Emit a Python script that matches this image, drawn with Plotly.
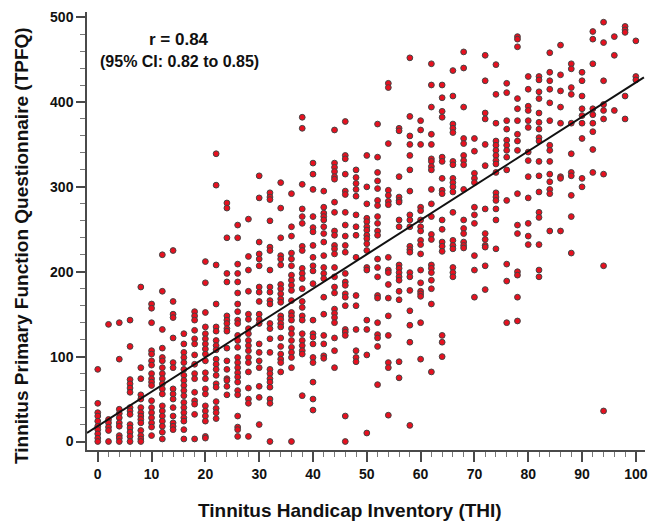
import plotly.graph_objects as go

thi_00 = [85,45,34,30,24,18,14,9,4,0]
thi_02 = [138,26,22,17,13,0]
thi_04 = [140,97,38,33,28,22,18,7,4,0]
thi_06 = [143,112,73,68,63,58,40,36,32,20,16,11,6,0]
thi_08 = [182,87,74,55,50,40,34,30,26,22,13,7,3,0]
thi_10 = [162,157,140,107,103,95,90,80,74,70,66,48,40,34,28,22,17,7]
thi_12 = [220,177,132,110,99,95,87,80,74,68,62,56,42,36,30,24,18,11,3]
thi_14 = [225,165,150,146,122,93,87,62,56,50,40,30,22,18,14]
thi_16 = [127,115,105,99,93,85,78,72,66,60,54,46,40,34,28,24,14,3]
thi_18 = [153,148,143,131,121,115,102,91,80,74,58,48,44,32,3]
thi_20 = [212,187,152,135,127,121,115,109,103,95,81,74,62,56,42,36,30,24,6,4]
thi_22 = [339,302,208,162,135,130,119,113,108,97,91,85,78,68,64,47,39,34,27]
thi_24 = [281,275,240,198,188,148,143,139,133,130,110,95,85,74,72,65,55]
thi_26 = [255,240,209,198,188,175,162,153,143,139,125,119,111,99,93,87,81,76,70,60,55,30,17,14,6]
thi_28 = [262,218,202,177,150,144,133,127,119,113,107,99,93,82,63,50,45,6]
thi_30 = [313,287,235,221,215,207,182,176,165,150,144,139,115,105,95,87,65,52,20]
thi_32 = [293,288,285,260,229,225,202,182,176,166,162,139,133,121,105,85,80,74,70,64,50,45,0]
thi_34 = [305,275,240,219,215,208,185,180,174,168,164,148,144,139,135,122,112,103,97,93,82]
thi_36 = [292,253,242,222,215,207,196,190,184,178,166,152,148,143,133,127,119,111,105,99,87,0]
thi_38 = [382,369,303,274,265,257,230,225,204,198,192,180,165,158,148,143,127,119,113,107,103,54]
thi_40 = [328,315,297,265,252,247,231,217,207,201,186,143,127,123,115,99,93,70,50,37]
thi_42 = [295,276,269,265,261,253,245,235,219,205,198,192,170,150,125,115,101,98]
thi_44 = [367,328,323,318,312,309,282,270,248,243,231,227,221,205,194,182,175,156,151,146,140,122,107,87]
thi_46 = [377,337,333,315,295,291,270,255,242,231,223,198,188,184,174,170,160,132,129,125,30,0]
thi_48 = [320,311,304,297,289,267,253,243,217,172,160,132,107,99,94]
thi_50 = [337,300,280,263,259,253,249,243,239,233,225,205,202,143,132,102,10]
thi_52 = [374,335,317,307,298,284,278,265,257,248,243,215,205,194,172,169,140,126,122,112,67]
thi_54 = [422,417,351,296,290,283,279,217,202,199,185,169,148,125,93,87,31]
thi_56 = [369,366,312,288,284,282,261,253,208,204,199,194,190,177,167,94,75]
thi_58 = [452,383,360,350,337,320,295,267,261,253,230,226,223,199,194,178,154,137,117,19]
thi_60 = [378,367,350,276,272,261,253,248,237,232,221,202,187,177,174,171,140,97]
thi_62 = [445,420,394,362,350,333,330,324,320,297,280,265,244,238,208,204,199,190,180,162,82]
thi_64 = [420,405,389,382,335,330,310,296,292,261,250,235,230,224,125,117,100]
thi_66 = [437,407,374,369,364,330,326,310,305,300,294,270,237,231,227,205,199,194]
thi_68 = [459,440,394,357,351,337,331,326,297,261,251,245,235,231,228]
thi_70 = [357,342,316,310,305,276,267,257,219,202,170]
thi_72 = [455,425,387,380,350,325,274,245,238,231,229,207,179]
thi_74 = [444,409,375,354,349,343,337,331,327,317,293,288,284,274,261,227]
thi_76 = [422,411,378,368,355,349,343,335,320,284,209,189,140]
thi_78 = [477,474,465,404,392,378,362,354,343,292,255,245,200,196,170,142]
thi_80 = [430,415,395,390,378,370,341,331,312,287,257,242,232]
thi_82 = [430,426,412,404,387,376,368,358,354,330,313,294,270,264,232,202,194]
thi_84 = [458,435,425,415,399,378,349,343,330,315,306,297,292,248]
thi_86 = [467,432,413,394,375,312,310,248]
thi_88 = [445,439,417,409,375,339,317,313,290,265,222]
thi_90 = [435,425,407,392,384,375,357,310,300]
thi_92 = [483,474,445,392,385,375,365,344,317]
thi_94 = [494,470,425,397,390,380,315,207,36]
thi_96 = [477,455,390]
thi_98 = [489,485,482,407,380]
thi_100 = [472,430,426]

thi_levels = list(range(0, 101, 2))
tpfq_columns = [thi_00,thi_02,thi_04,thi_06,thi_08,thi_10,thi_12,thi_14,thi_16,thi_18,
                thi_20,thi_22,thi_24,thi_26,thi_28,thi_30,thi_32,thi_34,thi_36,thi_38,
                thi_40,thi_42,thi_44,thi_46,thi_48,thi_50,thi_52,thi_54,thi_56,thi_58,
                thi_60,thi_62,thi_64,thi_66,thi_68,thi_70,thi_72,thi_74,thi_76,thi_78,
                thi_80,thi_82,thi_84,thi_86,thi_88,thi_90,thi_92,thi_94,thi_96,thi_98,thi_100]
fit_thi = [-2, 101.5]
fit_tpfq = [10, 429]

xs, ys = [], []
for level, col in zip(thi_levels, tpfq_columns):
    for v in col:
        xs.append(level)
        ys.append(v)

FONT = "Liberation Sans"
INK = "#111111"
AXIS = "#4a4a4a"
FIG_W, FIG_H = 650, 522
L, R, T, B = 87, 5, 12, 72
W, H = FIG_W - L - R, FIG_H - T - B


def note(px, py, text, size, angle=0):
    return dict(x=(px - L) / W, y=1 - (py - T) / H, xref="paper", yref="paper",
                xanchor="center", yanchor="middle", text="<b>%s</b>" % text,
                showarrow=False, textangle=angle,
                font=dict(size=size, family=FONT, color=INK))


fig = go.Figure()
fig.add_trace(go.Scatter(
    x=xs, y=ys, mode="markers", cliponaxis=False,
    marker=dict(size=5.8, color="#e8101f", line=dict(color="#444444", width=1)),
    showlegend=False, hoverinfo="x+y"))
fig.add_trace(go.Scatter(
    x=fit_thi, y=fit_tpfq, mode="lines",
    line=dict(color=INK, width=2), showlegend=False, hoverinfo="skip"))

tick_font = dict(size=14, family=FONT, color=INK, weight="bold")
fig.update_layout(
    width=FIG_W, height=FIG_H, autosize=False,
    margin=dict(l=L, r=R, t=T, b=B, autoexpand=False),
    paper_bgcolor="white", plot_bgcolor="white",
    font=dict(family=FONT, color=INK),
    xaxis=dict(
        range=[-2, 101.7], automargin=False, showgrid=False, zeroline=False, showline=True,
        linecolor=AXIS, linewidth=1.5, tickmode="array",
        tickvals=list(range(0, 101, 10)), ticks="outside", ticklen=10, tickwidth=1.5,
        tickcolor=AXIS, tickfont=tick_font,
        minor=dict(tickvals=list(range(0, 101, 2)), ticks="outside", ticklen=5,
                   tickwidth=1.2, tickcolor="#777777")),
    yaxis=dict(
        range=[-10, 506], automargin=False, showgrid=False, zeroline=False, showline=True,
        linecolor=AXIS, linewidth=1.5, tickmode="array",
        tickvals=list(range(0, 501, 100)), ticks="outside", ticklen=9, tickwidth=1.5,
        tickcolor=AXIS, tickfont=tick_font,
        minor=dict(tickvals=list(range(0, 501, 20)), ticks="outside", ticklen=5,
                   tickwidth=1.2, tickcolor="#777777")),
    annotations=[
        note(179, 39, "r = 0.84", 17),
        note(179, 62, "(95% CI: 0.82 to 0.85)", 16),
        note(350, 510, "Tinnitus Handicap Inventory (THI)", 19),
        note(21, 246, "Tinnitus Primary Function Questionnaire (TPFQ)", 19, -90),
    ],
)

fig.write_html("out.html", config={"displayModeBar": False},
               post_script="document.body.style.margin='0';document.documentElement.style.overflow='hidden';")
